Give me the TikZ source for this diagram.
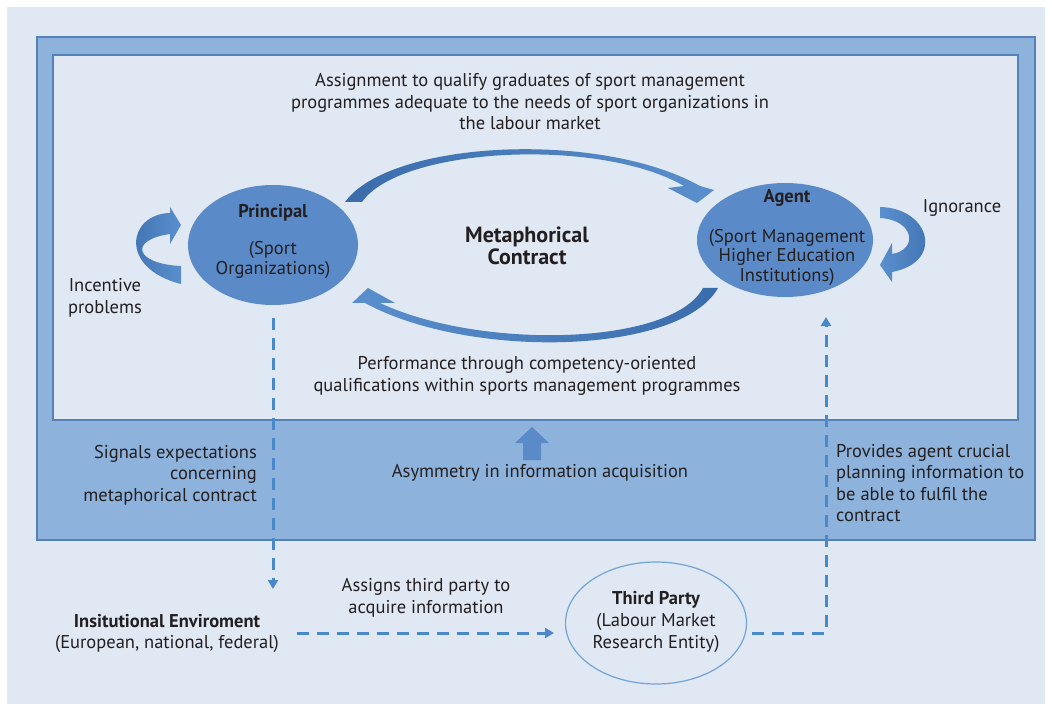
\documentclass[tikz,border=0pt]{standalone}
\usepackage{fontspec}
\setmainfont{PT Sans}
\usetikzlibrary{arrows.meta,shapes.geometric}

\definecolor{pagebg}{HTML}{DFE8F3}
\definecolor{framefill}{HTML}{8DB2DC}
\definecolor{frameline}{HTML}{5580B8}
\definecolor{ellfill}{HTML}{5A8BC8}
\definecolor{ribbondark}{HTML}{3A6CAB}
\definecolor{ribbonlight}{HTML}{5A8FCD}
\definecolor{dashblue}{HTML}{4A88CC}
\definecolor{thirdline}{HTML}{72A3DA}
\definecolor{ink}{HTML}{231F20}

\begin{document}
\begin{tikzpicture}[x=1pt,y=-1pt,
  txt/.style={text=ink,inner sep=0pt,align=center,font=\fontsize{18.5}{21.5}\selectfont},
  txtin/.style={txt,font=\fontsize{18.5}{19.5}\selectfont},
  txtl/.style={txt,align=left},
  txtr/.style={txt,align=right},
  bold/.style={txt,font=\fontsize{18.5}{21.5}\selectfont\bfseries},
  bigbold/.style={txt,font=\fontsize{22}{21.5}\selectfont\bfseries},
  party/.style={ellipse,fill=ellfill,inner sep=0pt},
  dashflow/.style={draw=dashblue,line width=3pt,dash pattern=on 12pt off 8pt},
  dashtip/.style={-{Triangle[width=10pt,length=9pt]}},
  ribbon/.style={left color=ribbondark,right color=ribbonlight},
  ribbonrev/.style={left color=ribbonlight,right color=ribbondark}]
\useasboundingbox (0,0) rectangle (1052,711);
\fill[white] (0,0) rectangle (1052,711);
\fill[pagebg] (7,7) rectangle (1045,704);

% outer frame and inner panel
\draw[frameline,fill=framefill,line width=1.5pt] (37,37) rectangle (1035,540);
\draw[frameline,fill=pagebg,line width=1.5pt] (53,55) rectangle (1018,420);

% the two contract parties
\node[party,minimum width=170pt,minimum height=120pt] (principal) at (273,245) {};
\node[party,minimum width=176pt,minimum height=114pt] (agent) at (785,240) {};
\node[bold] (principal-title) at (273,213) {Principal};
\node[txtin] (principal-desc) at (273,260) {(Sport\\Organizations)};
\node[bold] (agent-title) at (787,198) {Agent};
\node[txtin] (agent-desc) at (787,257) {(Sport Management\\Higher Education\\Institutions)};

% third party
\node[ellipse,draw=thirdline,line width=1.2pt,minimum width=181pt,minimum height=122pt] (third) at (656,623) {};
\node[bold] (third-title) at (656,600) {Third Party};
\node[txt] (third-desc) at (656,633) {(Labour Market\\Research Entity)};

% institutional environment
\node[bold] (inst-title) at (167,621) {Insitutional Enviroment};
\node[txt] (inst-desc) at (167,644) {(European, national, federal)};

% centre and edge texts
\node[bigbold] (contract) at (527,246) {Metaphorical\\Contract};
\node[txt] (assignment) at (530,102) {Assignment to qualify graduates of sport management\\programmes adequate to the needs of sport organizations in\\the labour market};
\node[txt] (performance) at (527,376) {Performance through competency-oriented\\qualifications within sports management programmes};
\node[txt] (incentive) at (105,298) {Incentive\\problems};
\node[txt] (ignorance) at (962,208) {Ignorance};
\node[txtr,anchor=east] (signals) at (257,475) {Signals expectations\\concerning\\metaphorical contract};
\node[txt] (asymmetry) at (540,473) {Asymmetry in information acquisition};
\node[txtl,anchor=west] (provides) at (836,483) {Provides agent crucial\\planning information to\\be able to fulfil the\\contract};
\node[txt] (assigns) at (426,598) {Assigns third party to\\acquire information};

% contract ribbons between principal and agent
\shade[ribbon] (345,202) .. controls (390,140) and (600,130) .. (700,186)
  -- (714,190) -- (697,203) -- (668,188) -- (684,186)
  .. controls (600,137) and (400,147) .. (362,202) -- cycle;
\shade[ribbonrev] (718,288) .. controls (680,355) and (470,360) .. (365,303)
  -- (352,303) -- (368,288) -- (395,303) -- (380,303)
  .. controls (480,350) and (672,346) .. (703,288) -- cycle;

% self loops
\shade[ribbon] (181,284) .. controls (118,268) and (128,214) .. (170,213)
  -- (170,207) -- (181,225) -- (170,244) -- (170,234)
  .. controls (128,240) and (135,264) .. (181,266) -- cycle;
\shade[ribbonrev] (880,207) .. controls (930,208) and (945,262) .. (892,272)
  -- (892,282) -- (880,265) -- (892,243) -- (892,254)
  .. controls (918,250) and (915,220) .. (880,218) -- cycle;

% information asymmetry arrow
\fill[ellfill] (523,460) -- (523,443) -- (515,443) -- (532,427) -- (549,443)
  -- (541,443) -- (541,460) -- cycle;

% dashed information flows
\coordinate (signal-start) at (273,318);
\coordinate (signal-end) at (273,589);
\coordinate (assign-start) at (297,633);
\coordinate (assign-end) at (554,633);
\coordinate (provide-start) at (752,633);
\coordinate (provide-corner) at (826,633);
\coordinate (provide-end) at (826,317);
\draw[dashflow,dashtip] (signal-start) -- (signal-end);
\draw[dashflow,dashtip] (assign-start) -- (assign-end);
\draw[dashflow,dashtip] (provide-start) -- (provide-corner) -- (provide-end);
\end{tikzpicture}
\end{document}
